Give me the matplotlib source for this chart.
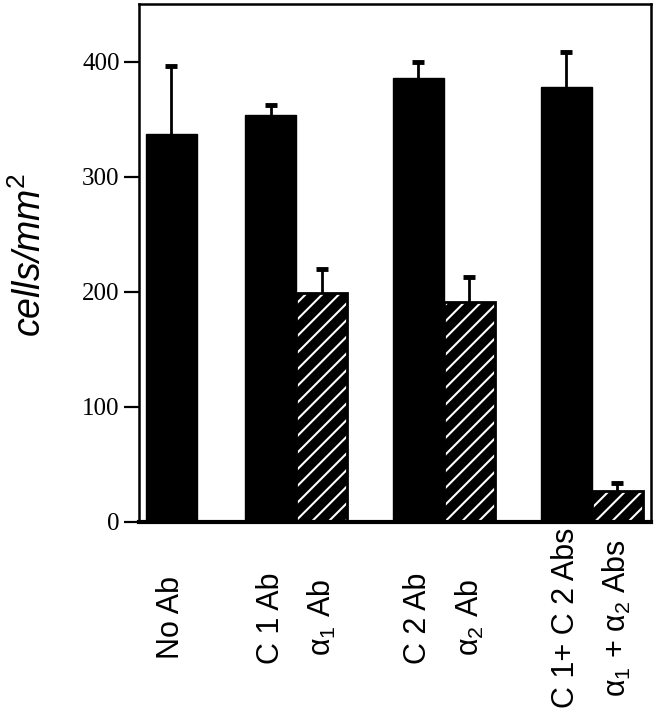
import matplotlib
matplotlib.use("Agg")
import matplotlib.pyplot as plt
import numpy as np

# ---- data (cells/mm2)
labels = ["No Ab", "C 1 Ab", "α$_1$ Ab", "C 2 Ab", "α$_2$ Ab",
          "C 1+ C 2 Abs", "α$_1$ + α$_2$ Abs"]
means = [337, 354, 199, 386, 191, 378, 27]
err_up = [59, 8, 21, 14, 22, 30, 7]
hatched = [False, False, True, False, True, False, True]

# ---- layout: bars grouped, pair members touching
group_start = [0, 1.95, 4.85, 7.75]
group_size = [1, 2, 2, 2]
xpos = []
for s, n in zip(group_start, group_size):
    for k in range(n):
        xpos.append(s + k * 1.0)
xpos = np.array(xpos)

plt.rcParams["mathtext.fontset"] = "custom"
plt.rcParams["mathtext.rm"] = "Liberation Sans"
plt.rcParams["mathtext.it"] = "Liberation Sans:italic"
plt.rcParams["hatch.linewidth"] = 1.5

fig = plt.figure(figsize=(6.57, 7.2), dpi=100)
ax = fig.add_axes([139 / 657, 1 - 522 / 720, (651 - 139) / 657, (522 - 4) / 720])

for x, m, h in zip(xpos, means, hatched):
    if h:
        ax.bar(x, m, width=1.0, color="black", edgecolor="white", hatch="//",
               linewidth=0, zorder=2)
        ax.bar(x, m, width=1.0, fill=False, edgecolor="black", linewidth=2, zorder=3)
    else:
        ax.bar(x, m, width=1.0, color="black", edgecolor="black", linewidth=1, zorder=2)

line, caps, bars = ax.errorbar(xpos, means, yerr=[np.zeros(len(means)), err_up], fmt="none",
                               ecolor="black", elinewidth=2, capsize=4, capthick=3.5, zorder=1)
caps[0].set_visible(False)   # only the upper cap

ax.set_xlim(-0.63, 9.41)
ax.set_ylim(0, 450)
ax.set_yticks([0, 100, 200, 300, 400])
ax.set_yticklabels(["0", "100", "200", "300", "400"], family="Liberation Serif", fontsize=18)
ax.tick_params(axis="y", direction="out", length=11, width=1.6, pad=3)
ax.set_xticks([])
for sp in ax.spines.values():
    sp.set_linewidth(1.8)
ax.spines["bottom"].set_linewidth(3)

trans = ax.get_xaxis_transform()
for x, lab in zip(xpos, labels):
    ax.text(x, -0.185, lab, transform=trans, rotation=90, ha="center", va="center",
            fontsize=22, family="Liberation Sans")

fig.text(30 / 657, 1 - 255 / 720, r"cells/mm$^2$", rotation=90, ha="center", va="center",
         fontsize=27, family="Liberation Sans", style="italic")

fig.savefig("out.png", dpi=100)
